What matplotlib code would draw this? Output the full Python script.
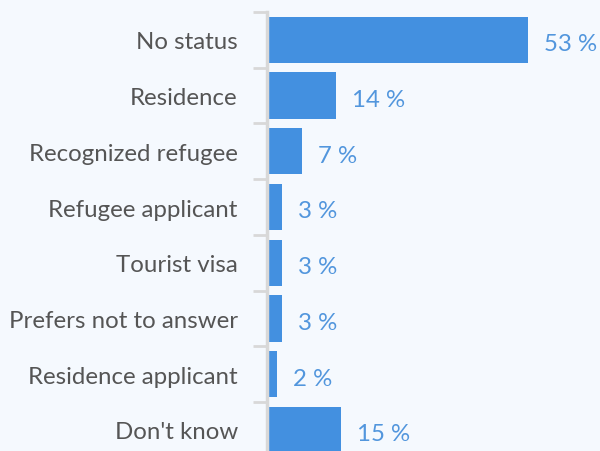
import matplotlib
matplotlib.use("Agg")
import matplotlib.pyplot as plt

categories = ["No status", "Residence", "Recognized refugee", "Refugee applicant",
              "Tourist visa", "Prefers not to answer", "Residence applicant", "Don't know"]
values = [53, 14, 7, 3, 3, 3, 2, 15]

bg = "#f5f9fe"
bar_color = "#4390e0"
label_color = "#5296dd"
text_color = "#555555"

fig = plt.figure(figsize=(6, 4.52), dpi=100, facecolor=bg)
ax = fig.add_axes([267 / 600, 0, 1 - 267 / 600, 1 - 13 / 452])
ax.set_facecolor(bg)

y = list(range(len(categories)))
ax.barh(y, values, height=0.83, color=bar_color, left=0.1)

for yi, v in zip(y, values):
    ax.text(v + 3.4, yi + 0.07, f"{v} %", va="center", ha="left",
            fontsize=17.3, color=label_color, fontfamily="Lato", fontweight="normal")

ax.set_yticks([i + 0.5 for i in range(-1, len(categories))], minor=False)
ax.set_yticklabels([])
ax.set_yticks(y, minor=True)
ax.set_yticklabels(categories, minor=True, fontsize=17.3, color=text_color,
                   fontfamily="Lato", fontweight="normal")
ax.tick_params(axis="y", which="major", length=10, width=2, color="#d8d8d8")
ax.tick_params(axis="y", which="minor", length=0, pad=21)
ax.set_xticks([])
ax.set_ylim((452 - 41) / 55.7, -0.5)
ax.set_xlim(0, (600 - 267) / 4.906)
for s in ["top", "right", "bottom"]:
    ax.spines[s].set_visible(False)
ax.spines["left"].set_color("#d8d8d8")
ax.spines["left"].set_linewidth(2.5)

fig.savefig("out.png", dpi=100, facecolor=bg)
